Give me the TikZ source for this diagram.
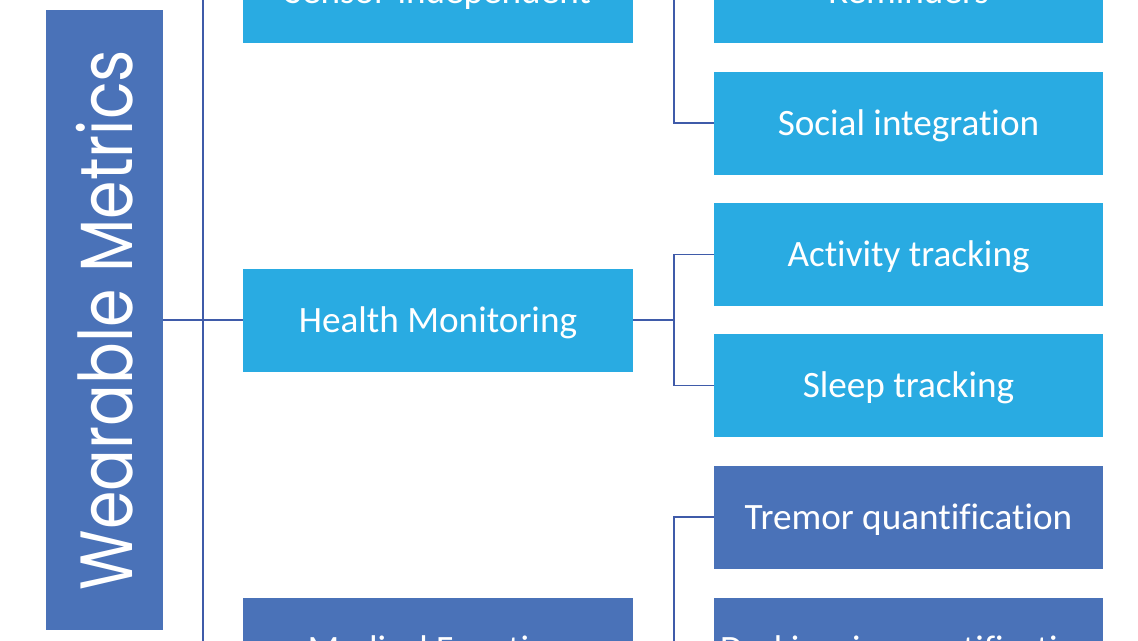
\documentclass[tikz,border=0pt]{standalone}
\usepackage{fontspec}
\setmainfont[Ligatures=NoCommon]{Carlito}
\newfontfamily\geofont{Poppins}
\definecolor{lightbox}{HTML}{29ABE2}
\definecolor{darkbox}{HTML}{4A72B8}
\definecolor{linkcol}{HTML}{3F5BA9}
\begin{document}
\begin{tikzpicture}[x=1pt,y=-1pt,
  box/.style={rectangle,inner sep=0pt,text=white,text height=31pt,text depth=7pt,font=\fontsize{37.2}{44}\selectfont},
  midbox/.style={box,minimum width=390pt,minimum height=103pt},
  rightbox/.style={box,minimum width=389pt,minimum height=103pt},
  link/.style={draw=linkcol,line width=1.8pt}]
\useasboundingbox (0,0) rectangle (1138,640);
\clip (0,0) rectangle (1138,640);
\fill[white] (0,0) rectangle (1138,640);
\node[rectangle,inner sep=0pt,fill=darkbox,minimum width=117pt,minimum height=620pt] (root) at (104.5,320) {};
\node[text=white,rotate=90,inner sep=0pt] (rootlabel) at (104.5,320) {\geofont\fontsize{74}{80}\selectfont\scalebox{0.837}[1]{Wearable Metrics}};
\node[midbox,fill=lightbox] (sensor) at (438,-8.5) {Sensor-independent};
\node[midbox,fill=lightbox] (health) at (438,320) {Health Monitoring};
\node[midbox,fill=darkbox] (medical) at (438,649.5) {Medical Function};
\node[rightbox,fill=lightbox] (remind) at (908.5,-8.5) {Reminders};
\node[rightbox,fill=lightbox] (social) at (908.5,123) {Social integration};
\node[rightbox,fill=lightbox] (activity) at (908.5,254.5) {Activity tracking};
\node[rightbox,fill=lightbox] (sleep) at (908.5,385.5) {Sleep tracking};
\node[rightbox,fill=darkbox] (tremor) at (908.5,517) {Tremor quantification};
\node[rightbox,fill=darkbox] (dysk) at (908.5,649.5) {Dyskinesia quantification};
\draw[link] (root.east) -- (health.west);
\draw[link] (sensor.west) -- ++(-40,0) |- (medical.west);
\draw[link] (sensor.east) -- ++(41,0) coordinate (sj);
\draw[link] (remind.west) -| (sj) |- (social.west);
\draw[link] (health.east) -- ++(41,0) coordinate (hj);
\draw[link] (activity.west) -| (hj) |- (sleep.west);
\draw[link] (medical.east) -- ++(41,0) coordinate (mj);
\draw[link] (tremor.west) -| (mj) |- (dysk.west);
\end{tikzpicture}
\end{document}
